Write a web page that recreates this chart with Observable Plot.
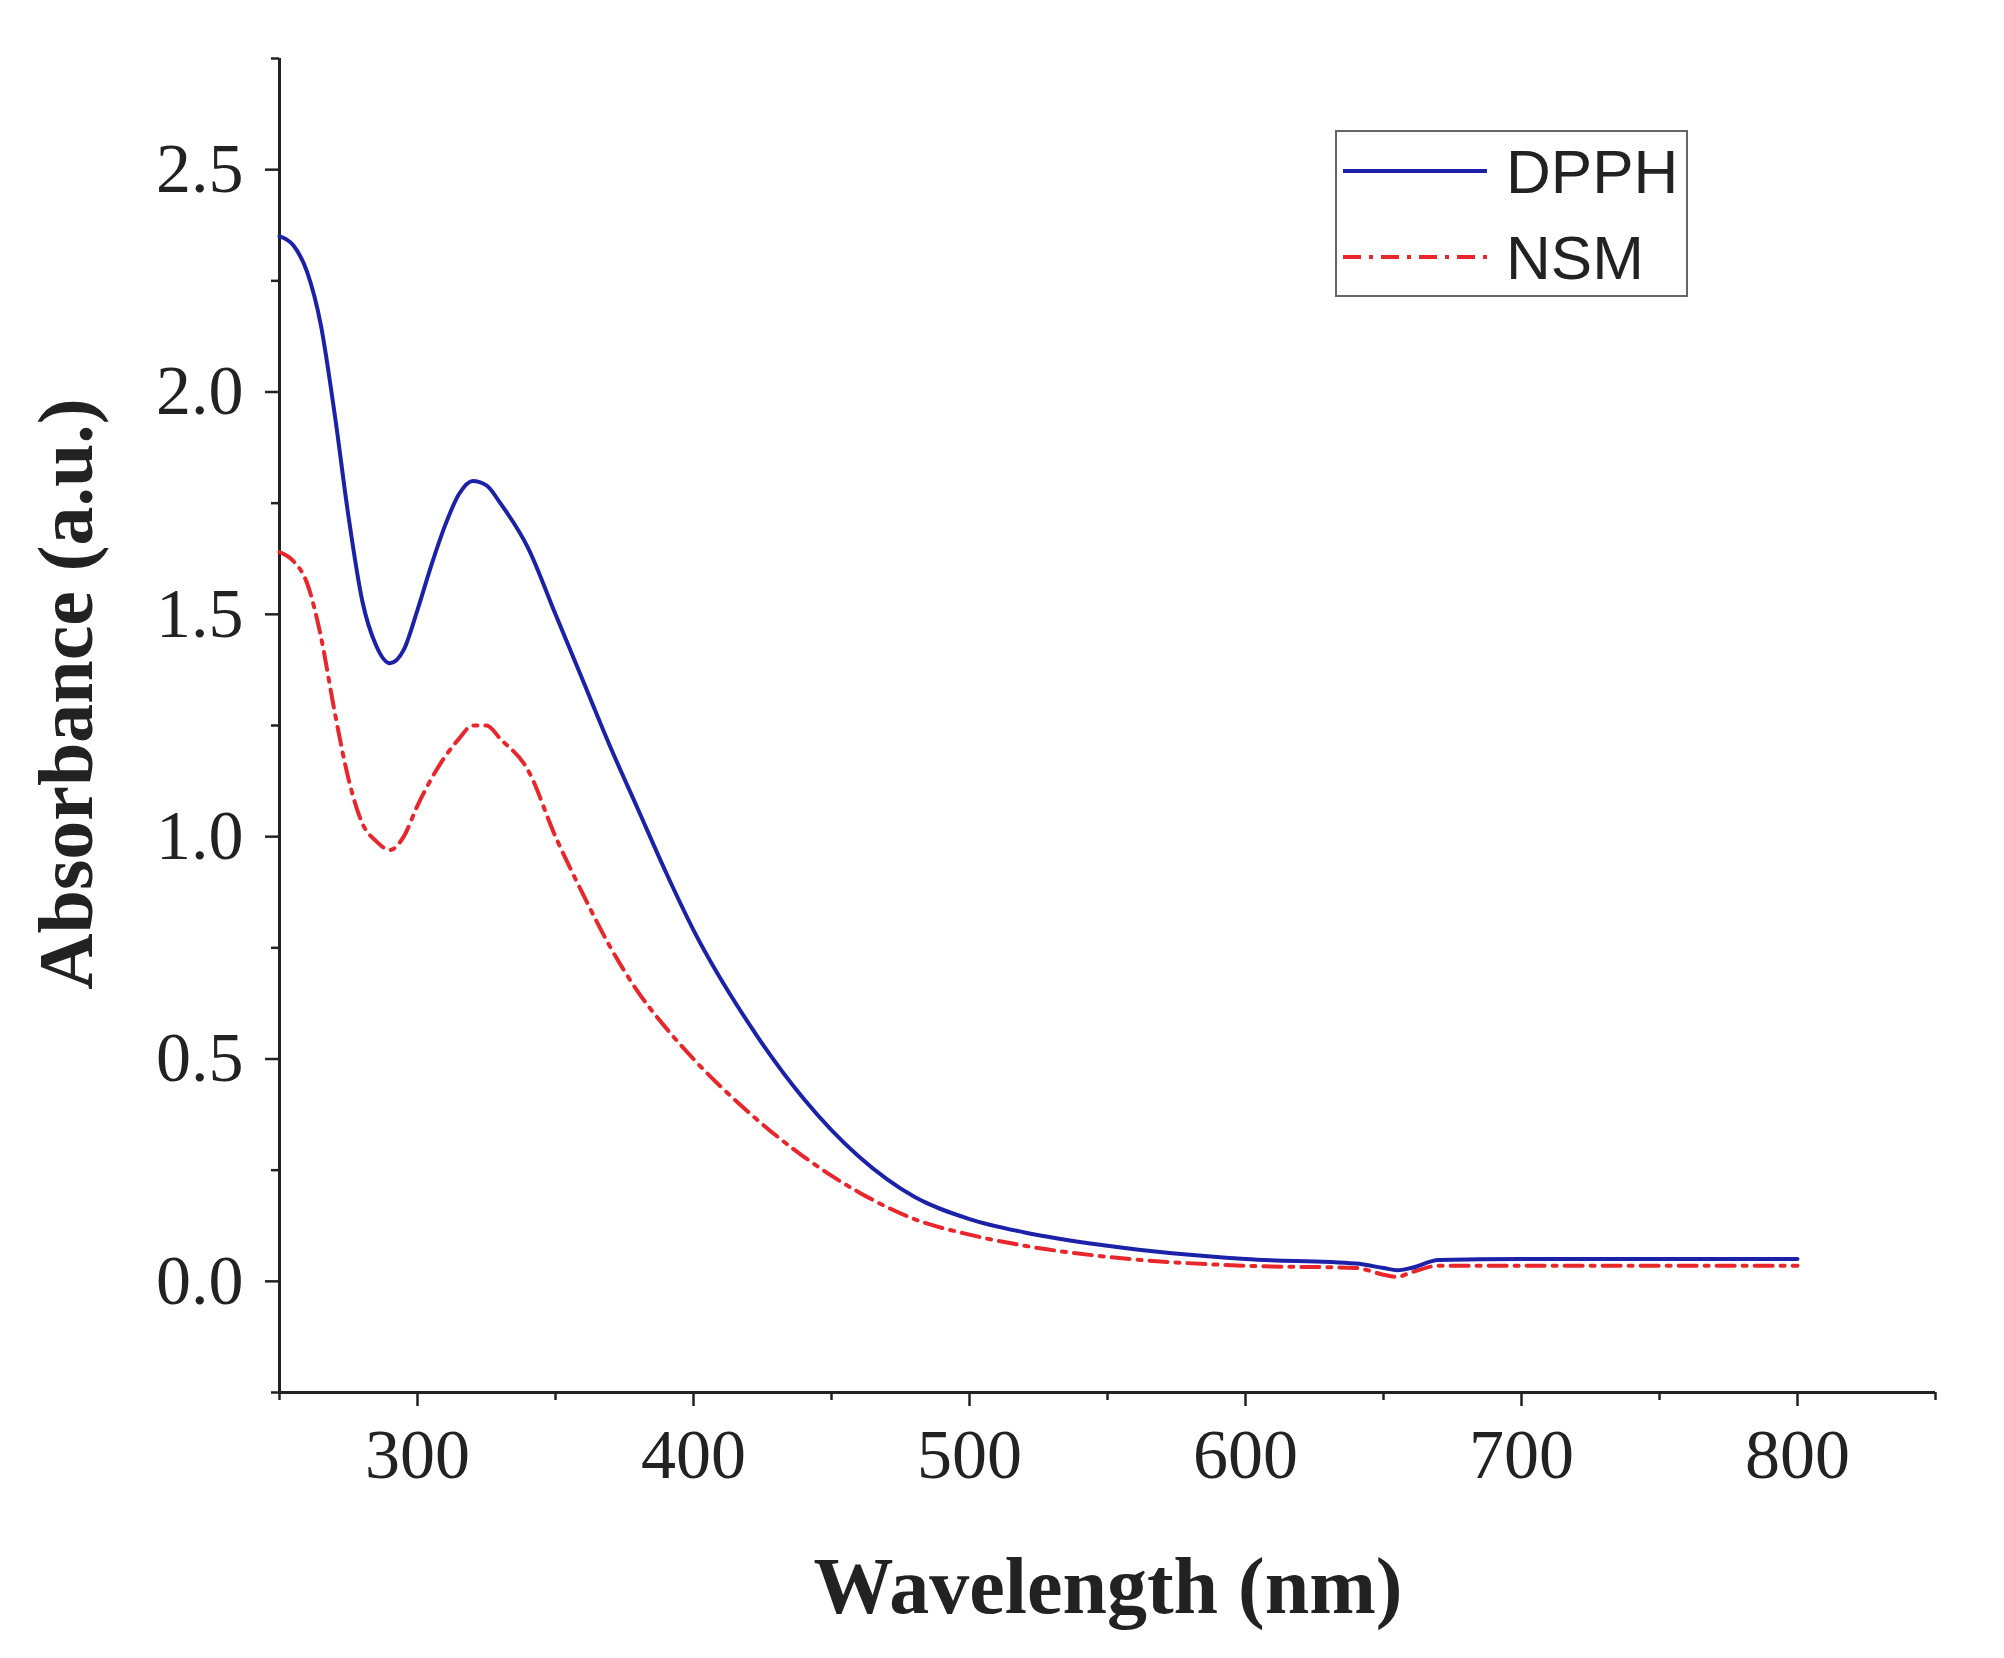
<!DOCTYPE html>
<html><head><meta charset="utf-8">
<script src="https://cdn.jsdelivr.net/npm/d3@7"></script>
<script src="https://cdn.jsdelivr.net/npm/@observablehq/plot@0.6"></script>
<style>body{margin:0;background:#fff}</style>
</head><body><div id="chart"></div>
<script>
const wavelength = [250,255,260,265,270,275,280,285,290,295,300,305,310,315,320,325,330,340,350,360,370,380,390,400,420,440,460,480,500,520,550,600,640,650,655,660,670,700,750,800];
const dpph = [2.35,2.33,2.27,2.15,1.95,1.72,1.53,1.43,1.39,1.42,1.51,1.61,1.70,1.77,1.80,1.79,1.75,1.65,1.50,1.35,1.20,1.06,0.92,0.79,0.58,0.41,0.28,0.19,0.14,0.11,0.08,0.05,0.04,0.03,0.025,0.03,0.048,0.05,0.05,0.05];
const nsm  = [1.64,1.62,1.57,1.45,1.28,1.13,1.03,0.99,0.97,1.00,1.07,1.13,1.18,1.22,1.25,1.25,1.22,1.15,1.00,0.87,0.75,0.65,0.57,0.50,0.38,0.28,0.20,0.14,0.105,0.08,0.055,0.035,0.03,0.015,0.01,0.02,0.035,0.035,0.035,0.035];
const seriesNames = ["DPPH","NSM"];
const xMajor = [300,400,500,600,700,800];
const xMinor = [250,350,450,550,650,750,850];
const yMajor = [0,0.5,1,1.5,2,2.5];
const yMinor = [-0.25,0.25,0.75,1.25,1.75,2.25,2.75];

const rows = wavelength.flatMap((w,i)=>[{w,a:dpph[i],s:"DPPH"},{w,a:nsm[i],s:"NSM"}]);
const font = "'Liberation Serif', 'Times New Roman', serif";
const plot = Plot.plot({
  width:2004, height:1658,
  marginLeft:279, marginRight:69, marginTop:58, marginBottom:266,
  style:{fontFamily:font, fontSize:"70px", color:"#222", background:"#fff"},
  x:{domain:[250,850]},
  y:{domain:[-0.25,2.75]},
  marks:[
    Plot.axisX(xMajor,{tickSize:14, tickPadding:22, label:null, fontSize:70, strokeWidth:2.5}),
    Plot.axisX(xMinor,{tickSize:8, text:null, label:null, strokeWidth:2.5}),
    Plot.axisY(yMajor,{tickSize:14, tickPadding:22, label:null, tickFormat:d3.format(".1f"), fontSize:70, strokeWidth:2.5}),
    Plot.axisY(yMinor,{tickSize:8, text:null, label:null, strokeWidth:2.5}),
    Plot.ruleX([250],{stroke:"#222",strokeWidth:3}),
    Plot.ruleY([-0.25],{stroke:"#222",strokeWidth:3}),
    Plot.line(rows.filter(d=>d.s==="NSM"),{x:"w",y:"a",stroke:"#e8262c",strokeWidth:4,strokeDasharray:"18,8,4,8",curve:"monotone-x"}),
    Plot.line(rows.filter(d=>d.s==="DPPH"),{x:"w",y:"a",stroke:"#1c22a8",strokeWidth:4,curve:"monotone-x"})
  ]
});
const svg = d3.select(plot);
svg.append("text").attr("x",1108).attr("y",1613).attr("text-anchor","middle")
  .attr("font-family",font).attr("font-weight","bold").attr("font-size",80).attr("fill","#222").text("Wavelength (nm)");
svg.append("text").attr("transform","translate(92,694) rotate(-90)").attr("text-anchor","middle")
  .attr("font-family",font).attr("font-weight","bold").attr("font-size",78).attr("fill","#222").text("Absorbance (a.u.)");
const lg = svg.append("g");
lg.append("rect").attr("x",1336).attr("y",131).attr("width",351).attr("height",165).attr("fill","#fff").attr("stroke","#666").attr("stroke-width",2);
const lc = {DPPH:["#1c22a8",null,171],NSM:["#e8262c","18,8,4,8",257]};
seriesNames.forEach(n=>{
  const [c,da,y]=lc[n];
  lg.append("line").attr("x1",1343).attr("x2",1487).attr("y1",y).attr("y2",y).attr("stroke",c).attr("stroke-width",4).attr("stroke-dasharray",da);
  lg.append("text").attr("x",1506).attr("y",y).attr("dy","0.36em").attr("text-anchor","start").attr("font-family","'Liberation Sans', Arial, sans-serif").attr("font-size",62).attr("fill","#222").text(n);
});
document.getElementById("chart").appendChild(plot);
</script></body></html>
